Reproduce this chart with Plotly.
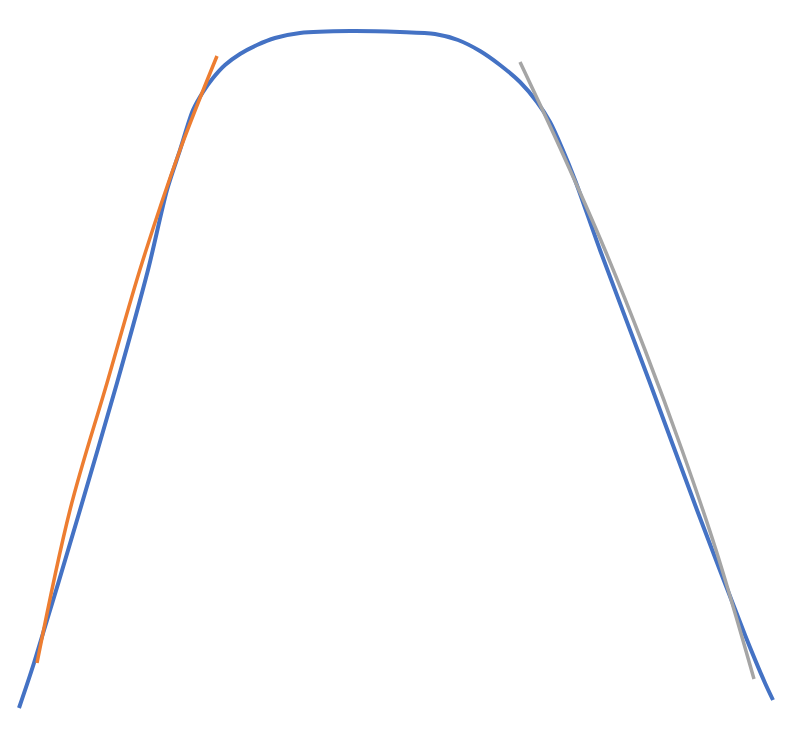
import plotly.graph_objects as go

# curva principal (azul)
curve_x = [19, 34, 80, 117, 148, 167, 180, 193, 203, 213, 225, 240, 257, 275, 300,
           350, 400, 435, 458, 480, 500, 520, 537, 550, 562, 575, 600, 650, 697,
           745, 765, 773]
curve_y = [708, 663, 510, 383, 270, 190, 150, 110, 92, 78, 65, 54, 45, 38, 33,
           31, 32, 34, 40, 51, 65, 82, 102, 122, 148, 180, 250, 383, 510,
           635, 683, 700]

# tangente esquerda (laranja)
left_x = [37, 70, 107, 142, 180, 217]
left_y = [663, 510, 383, 263, 150, 56]

# tangente direita (cinza)
right_x = [520, 561, 605, 645, 682, 716, 754]
right_y = [62, 150, 250, 350, 450, 550, 679]

fig = go.Figure()
fig.add_trace(go.Scatter(x=curve_x, y=curve_y, mode="lines",
                         line=dict(color="#4472C4", width=4, shape="spline", smoothing=0.8)))
fig.add_trace(go.Scatter(x=left_x, y=left_y, mode="lines",
                         line=dict(color="#ED7D31", width=3.5, shape="spline", smoothing=1)))
fig.add_trace(go.Scatter(x=right_x, y=right_y, mode="lines",
                         line=dict(color="#A5A5A5", width=3.5, shape="spline", smoothing=1)))

# a página tem 8px de margem no body: desloca os eixos para compensar
fig.update_layout(
    width=787, height=743,
    margin=dict(l=0, r=0, t=0, b=0),
    paper_bgcolor="white", plot_bgcolor="white",
    showlegend=False,
    xaxis=dict(range=[8, 795], visible=False),
    yaxis=dict(range=[751, 8], visible=False),
)

fig.write_html("out.html")
